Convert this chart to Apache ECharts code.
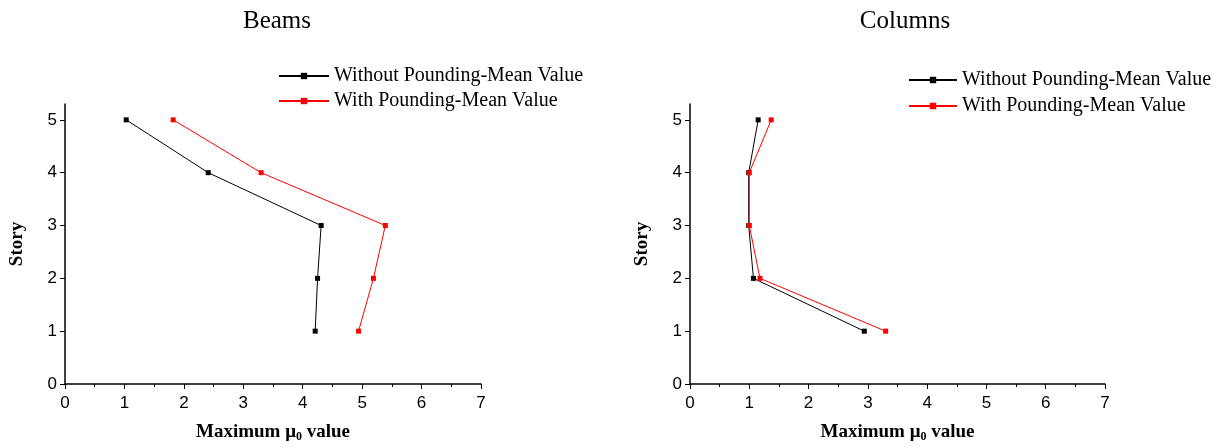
<!DOCTYPE html>
<html>
<head>
<meta charset="utf-8">
<script src="https://cdn.jsdelivr.net/npm/echarts@6/dist/echarts.min.js"></script>
<style>
  html, body { margin: 0; padding: 0; background: #fff; }
  #chart { width: 1218px; height: 447px; }
</style>
</head>
<body>
<div id="chart"></div>
<script>
// Story levels (y) and maximum mu0 values (x) for each panel
const stories = [5, 4, 3, 2, 1];
const seriesNames = ['Without Pounding-Mean Value', 'With Pounding-Mean Value'];
const panelTitles = ['Beams', 'Columns'];

const beamsWithout = [1.03, 2.41, 4.31, 4.25, 4.21];
const beamsWith = [1.82, 3.30, 5.39, 5.19, 4.94];

const columnsWithout = [1.15, 0.99, 0.99, 1.07, 2.94];
const columnsWith = [1.37, 1.00, 1.00, 1.18, 3.30];

const xTicks = [0, 1, 2, 3, 4, 5, 6, 7];
const yTicks = [0, 1, 2, 3, 4, 5];

const pairs = (xs) => xs.map((v, i) => [v, stories[i]]);

const serif = 'Liberation Serif';
const sans = 'Liberation Sans';

function xAxis(gridIndex) {
  return {
    gridIndex, type: 'value', min: xTicks[0], max: xTicks[xTicks.length - 1], interval: 1,
    name: 'Maximum μ{sub|0} value',
    nameLocation: 'middle', nameGap: 38,
    nameTextStyle: {
      fontFamily: serif, fontWeight: 'bold', fontSize: 19, color: '#000',
      rich: { sub: { fontFamily: serif, fontWeight: 'bold', fontSize: 12, color: '#000', verticalAlign: 'bottom', padding: [9, 0, 0, 0] } }
    },
    axisLine: { show: true, lineStyle: { color: '#000', width: 1.5 } },
    axisTick: { show: true, length: 5, lineStyle: { color: '#000' } },
    minorTick: { show: true, splitNumber: 2, length: 3, lineStyle: { color: '#000' } },
    axisLabel: { fontFamily: sans, fontSize: 17, color: '#000', margin: 11 },
    splitLine: { show: false }
  };
}

function yAxis(gridIndex) {
  return {
    gridIndex, type: 'value', min: yTicks[0], max: 5.3, interval: 1,
    name: 'Story', nameLocation: 'middle', nameGap: 38, nameRotate: 90,
    nameTextStyle: { fontFamily: serif, fontWeight: 'bold', fontSize: 19, color: '#000' },
    axisLine: { show: true, onZero: false, lineStyle: { color: '#000', width: 1.5 } },
    axisTick: { show: true, length: 5, lineStyle: { color: '#000' } },
    axisLabel: {
      fontFamily: sans, fontSize: 17, color: '#000', margin: 8,
      showMaxLabel: false,
      formatter: (v) => (yTicks.includes(v) ? String(v) : '')
    },
    splitLine: { show: false }
  };
}

function line(name, data, color, idx) {
  return {
    name, type: 'line', xAxisIndex: idx, yAxisIndex: idx, data,
    symbol: 'rect', symbolSize: 5, showSymbol: true,
    lineStyle: { color, width: 1 },
    itemStyle: { color },
    animation: false
  };
}

const legendText = { fontFamily: serif, fontSize: 20, color: '#000' };
const titleText = { fontFamily: serif, fontWeight: 'normal', fontSize: 25, color: '#000' };

const chart = echarts.init(document.getElementById('chart'), null, { renderer: 'canvas' });
chart.setOption({
  backgroundColor: '#fff',
  animation: false,
  title: [
    { text: panelTitles[0], left: 272, top: 4, textAlign: 'center', textStyle: titleText },
    { text: panelTitles[1], left: 900, top: 4, textAlign: 'center', textStyle: titleText }
  ],
  legend: [
    { data: seriesNames, orient: 'vertical', left: 273, top: 61, itemWidth: 50, itemHeight: 8,
      itemGap: 5, textStyle: legendText, selectedMode: false },
    { data: seriesNames, orient: 'vertical', left: 903, top: 65, itemWidth: 48, itemHeight: 8,
      itemGap: 6, textStyle: legendText, selectedMode: false }
  ],
  grid: [
    { left: 65, right: 737, top: 104, bottom: 63, containLabel: false, outerBoundsMode: 'none' },
    { left: 690, right: 113, top: 104, bottom: 63, containLabel: false, outerBoundsMode: 'none' }
  ],
  xAxis: [xAxis(0), xAxis(1)],
  yAxis: [yAxis(0), yAxis(1)],
  series: [
    line(seriesNames[0], pairs(beamsWithout), '#000', 0),
    line(seriesNames[1], pairs(beamsWith), '#ff0000', 0),
    line(seriesNames[0], pairs(columnsWithout), '#000', 1),
    line(seriesNames[1], pairs(columnsWith), '#ff0000', 1)
  ]
});
</script>
</body>
</html>
